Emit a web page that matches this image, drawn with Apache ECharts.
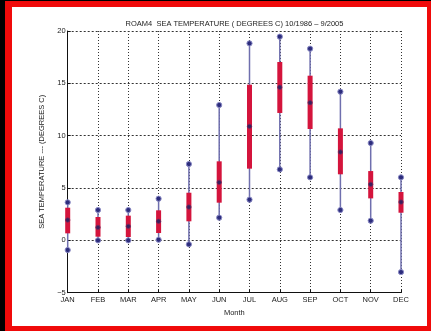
<!DOCTYPE html>
<html>
<head>
<meta charset="utf-8">
<script src="https://cdn.jsdelivr.net/npm/echarts@6/dist/echarts.min.js"></script>
<style>
html,body{margin:0;padding:0;width:431px;height:331px;background:#000;overflow:hidden;}
#frame{position:absolute;left:5px;top:1px;width:426px;height:330px;background:#f00a0a;}
#inner{position:absolute;left:12px;top:7px;width:415px;height:319px;background:#fff;}
#chart{position:absolute;left:0;top:0;width:431px;height:331px;}
</style>
</head>
<body>
<div id="frame"></div>
<div id="inner"></div>
<div id="chart"></div>
<script>
const months = ['JAN','FEB','MAR','APR','MAY','JUN','JUL','AUG','SEP','OCT','NOV','DEC'];
const maxs    = [3.63, 2.90, 2.90, 3.98, 7.29, 12.93, 18.82, 19.46, 18.31, 14.20, 9.30, 6.02];
const q3s     = [3.12, 2.23, 2.36, 2.87, 4.55, 7.55, 14.87, 17.04, 15.73, 10.70, 6.62, 4.62];
const medians = [1.94, 1.24, 1.34, 1.82, 3.18, 5.54, 10.89, 14.62, 13.15, 8.44, 5.35, 3.66];
const q1s     = [0.67, 0.35, 0.32, 0.70, 1.82, 3.60, 6.85, 12.17, 10.64, 6.31, 4.01, 2.64];
const mins    = [-0.92, 0.00, 0.00, 0.06, -0.38, 2.17, 3.89, 6.78, 6.02, 2.90, 1.88, -3.03];
const yTicks = { min: -5, max: 20, interval: 5 };

const data = months.map((m, i) => [i, mins[i], q1s[i], medians[i], q3s[i], maxs[i]]);

const chart = echarts.init(document.getElementById('chart'), null, { renderer: 'canvas' });
const font = 'Arial, "Liberation Sans", Helvetica, sans-serif';

function renderItem(params, api) {
  const x = api.value(0);
  const pMin = api.coord([x, api.value(1)]);
  const pQ1 = api.coord([x, api.value(2)]);
  const pMed = api.coord([x, api.value(3)]);
  const pQ3 = api.coord([x, api.value(4)]);
  const pMax = api.coord([x, api.value(5)]);
  const bw = 5;
  const endMarker = (p) => ({
    type: 'circle',
    shape: { cx: p[0], cy: p[1], r: 2.6 },
    style: { fill: '#2c2c7c', stroke: '#8a8ac4', lineWidth: 1 }
  });
  return {
    type: 'group',
    children: [
      { type: 'line', shape: { x1: pMax[0], y1: pMax[1], x2: pMin[0], y2: pMin[1] },
        style: { stroke: '#6f6fae', lineWidth: 1.5 } },
      { type: 'rect', shape: { x: pQ3[0] - bw / 2, y: pQ3[1], width: bw, height: pQ1[1] - pQ3[1] },
        style: { fill: '#d4143c' } },
      { type: 'circle', shape: { cx: pMed[0], cy: pMed[1], r: 2.2 },
        style: { fill: '#3a1e5e', stroke: '#7a2a5a', lineWidth: 0.8 } },
      endMarker(pMax),
      endMarker(pMin)
    ]
  };
}

chart.setOption({
  animation: false,
  backgroundColor: 'transparent',
  grid: { left: 67.7, top: 31, right: 30, bottom: 38.3, containLabel: false },
  graphic: [{
    type: 'text', x: 234.5, y: 23.5,
    style: { text: 'ROAM4  SEA TEMPERATURE ( DEGREES C) 10/1986 – 9/2005', fill: '#222',
      font: '7.5px ' + font, textAlign: 'center', textVerticalAlign: 'middle' }
  }],
  xAxis: {
    type: 'category', data: months, boundaryGap: false,
    name: 'Month', nameLocation: 'middle', nameGap: 15.5,
    nameTextStyle: { color: '#222', fontSize: 7.5, fontFamily: font },
    axisLine: { show: true, onZero: false, lineStyle: { color: '#111', width: 1 } },
    axisTick: { show: true, inside: true, length: 3, lineStyle: { color: '#111' } },
    axisLabel: { color: '#222', fontSize: 7.5, fontFamily: font, margin: 3, interval: 0 },
    splitLine: { show: true, lineStyle: { color: '#333', type: [1, 2], width: 1 } }
  },
  yAxis: {
    type: 'value', min: yTicks.min, max: yTicks.max, interval: yTicks.interval,
    name: 'SEA TEMPERATURE --- (DEGREES C)', nameLocation: 'middle', nameGap: 18.5, nameRotate: 90,
    nameTextStyle: { color: '#222', fontSize: 7.5, fontFamily: font },
    axisLine: { show: true, onZero: false, lineStyle: { color: '#111', width: 1 } },
    axisTick: { show: true, inside: true, length: 3, lineStyle: { color: '#111' } },
    axisLabel: { color: '#222', fontSize: 7.5, fontFamily: font, margin: 2,
      formatter: v => String(v).replace('-', '−') },
    splitLine: { show: true, lineStyle: { color: '#333', type: [2, 2], width: 1 } }
  },
  series: [{
    type: 'custom', renderItem: renderItem, data: data,
    encode: { x: 0, y: [1, 2, 3, 4, 5] }, clip: false, z: 5
  }]
});
</script>
</body>
</html>
